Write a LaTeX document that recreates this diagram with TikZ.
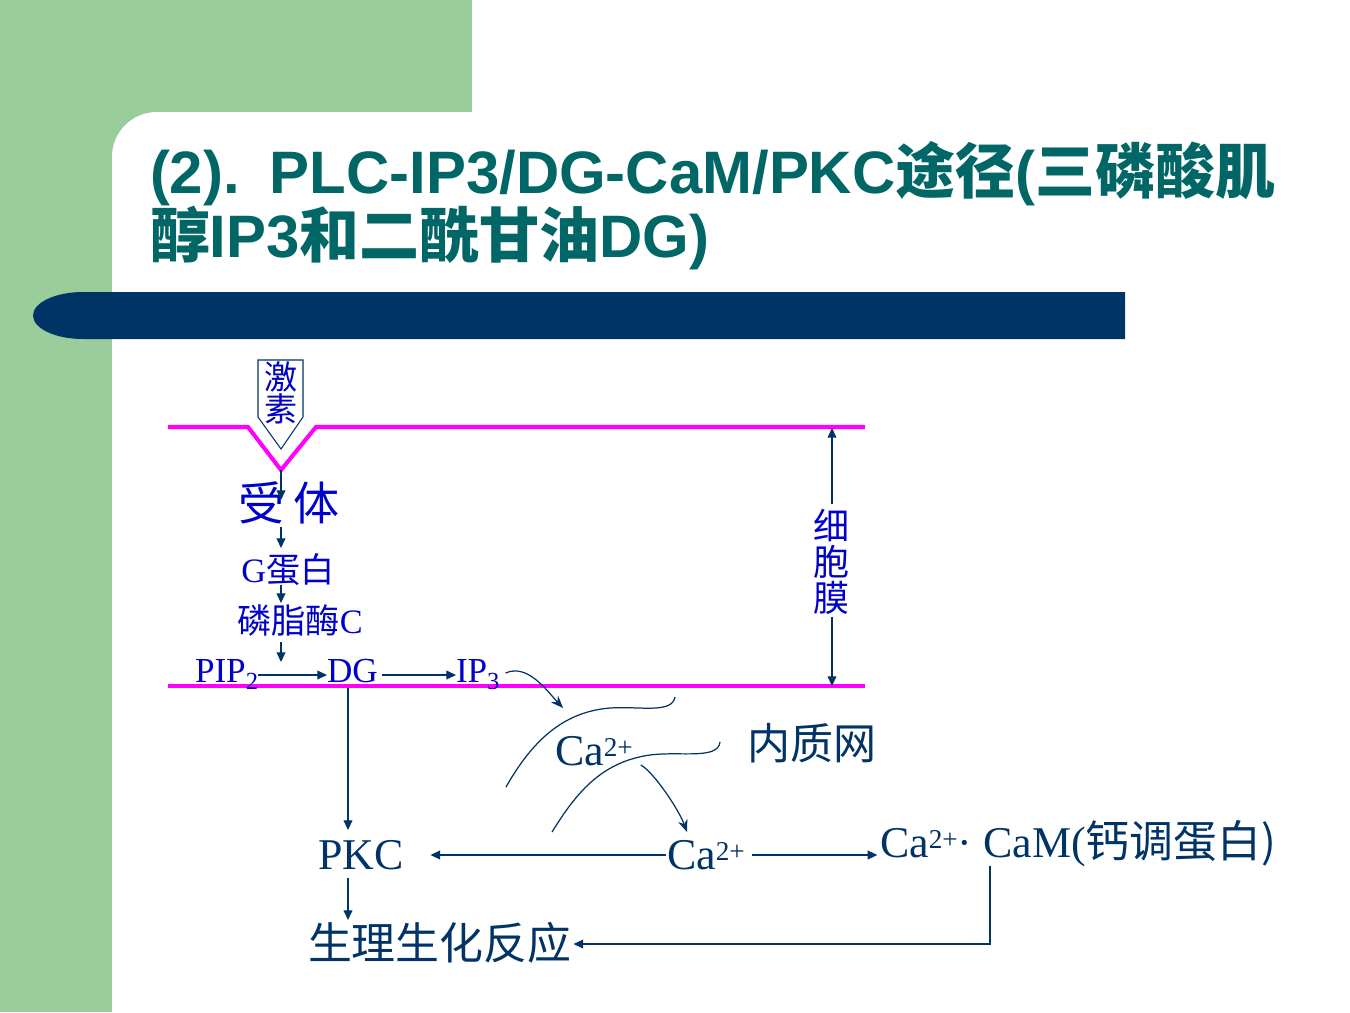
\documentclass[tikz,border=0pt]{standalone}
\usepackage{fontspec}
\setmainfont{Liberation Serif}
\newfontfamily\titlelat{Liberation Sans}
\newfontfamily\cjk{Noto Sans CJK SC}
\usetikzlibrary{arrows.meta,calc}
\definecolor{gbg}{RGB}{155,204,155}
\definecolor{navy}{RGB}{0,51,102}
\definecolor{tealt}{RGB}{0,102,102}
\definecolor{tblue}{RGB}{0,0,204}
\definecolor{mag}{RGB}{255,0,255}
\newcommand\fsz[1]{\fontsize{#1}{#1}\selectfont}
\newcommand\supr[1]{\raisebox{5pt}{\fsz{15.5pt}#1}}
\newcommand\subr[1]{\raisebox{-4.5pt}{\fsz{14pt}#1}}
\begin{document}
\begin{tikzpicture}[x=0.02cm,y=-0.02cm,
  arr/.style={draw=navy, line width=0.7pt, -{Triangle[length=5.5pt,width=5pt]}},
  carr/.style={draw=navy, line width=0.7pt, -{Stealth[length=7pt,width=5.5pt]}},
  ln/.style={draw=navy, line width=0.7pt},
  txt/.style={inner sep=0pt, outer sep=0pt},
  bluet/.style={txt, text=tblue},
  navyt/.style={txt, text=navy},
  titlet/.style={txt, anchor=base west, text=tealt, font=\titlelat\bfseries\fsz{34.1pt}}]
\useasboundingbox (0,0) rectangle (1350,1012);
\clip (0,0) rectangle (1350,1012);
% background
\fill[white] (0,0) rectangle (1350,1012);
\fill[gbg] (0,0) rectangle (472,160);
\fill[gbg] (0,0) rectangle (160,1012);
\fill[white, rounded corners=0.9cm] (112,1100) -- (112,112) -- (1400,112) -- (1400,1100) -- cycle;
\fill[gbg] (0,0) rectangle (112,1012);
\fill[gbg] (0,0) rectangle (472,112);
% bar
\fill[navy] (1125,292) -- (83,292) .. controls (55.4,292) and (33,302.5) .. (33,315.5)
  .. controls (33,328.5) and (55.4,339) .. (83,339) -- (1125,339) -- cycle;
% title
\node[titlet] (t1) at (150,193) {(2).\hspace{17pt}PLC-IP3/DG-CaM/PKC{\cjk 途径}({\cjk 三磷酸肌}};
\node[titlet] (t2) at (150,257) {{\cjk 醇}IP3{\cjk 和二酰甘油}DG)};
% membranes
\draw[mag, line width=2.3pt, line join=miter] (168,427) -- (248,427) -- (281,470) -- (316,427) -- (865,427);
\draw[mag, line width=2.3pt] (168,686) -- (865,686);
\coordinate (vtip) at (281,470);
\coordinate (vx) at (281,0);
\coordinate (dx) at (348,0);
\coordinate (cx) at (990,0);
% hormone
\draw[navy, line width=0.6pt, fill=white] (258,360) -- (303,360) -- (303,417) -- (281,449) -- (258,417) -- cycle;
\node[bluet, font=\cjk\fontsize{18.8pt}{18.2pt}\selectfont, align=center] (horm) at (281,393) {激\\素};
% chain
\node[bluet, anchor=base, font=\cjk\fsz{26.2pt}] (rec) at (289,520) {受\hspace{5.5pt}体};
\node[bluet, anchor=base, font=\fsz{19.5pt}] (gp) at (288,582) {G{\cjk 蛋白}};
\node[bluet, anchor=base, font=\fsz{19.5pt}] (plc) at (300,633) {{\cjk 磷脂酶}C};
\node[bluet, anchor=base west, font=\fsz{20pt}] (pip) at (195,682) {PIP\subr{2}};
\node[bluet, anchor=base west, font=\fsz{20pt}] (dg) at (327,682) {DG};
\node[bluet, anchor=base west, font=\fsz{20pt}] (ip3) at (456,682) {IP\subr{3}};
\draw[arr] (vtip) -- ($(vtip |- rec.base)+(0,-20)$);
\draw[arr] ($(vx |- rec.base)+(0,7)$) -- ($(vx |- gp.base)+(0,-34)$);
\draw[arr] ($(vx |- gp.base)+(0,3)$) -- ($(vx |- plc.base)+(0,-30)$);
\draw[arr] ($(vx |- plc.base)+(0,9)$) -- ($(vx |- pip.base)+(0,-20)$);
\draw[arr] ($(pip.base east)+(0,-7)$) -- ($(dg.base west)+(0,-7)$);
\draw[arr] ($(dg.base east)+(4,-7)$) -- ($(ip3.base west)+(0,-7)$);
% lower part
\node[navyt, anchor=base west, font=\fsz{25pt}] (pkc) at (318,869) {PKC};
\node[navyt, anchor=base west, font=\fsz{25pt}] (ca2) at (667,869) {Ca\supr{2+}};
\node[navyt, anchor=base west, font=\fsz{25pt}] (cam) at (880,857) {Ca\supr{2+}·\ CaM({\cjk 钙调蛋白)}};
\node[navyt, anchor=base west, font=\cjk\fsz{25pt}] (resp) at (308,959) {生理生化反应};
\node[navyt, anchor=base west, font=\fsz{25pt}] (ca1) at (555,765) {Ca\supr{2+}};
\node[navyt, anchor=base west, font=\cjk\fsz{24.5pt}] (er) at (747,759) {内质网};
\draw[arr] ($(dx |- dg.base)+(0,6)$) -- ($(dx |- pkc.base)+(0,-39)$);
\draw[arr] ($(dx |- pkc.base)+(0,9)$) -- ($(dx |- resp.base)+(0,-39)$);
\draw[arr] ($(ca2.base west)+(-1,-14)$) -- ($(pkc.base east)+(27,-14)$);
\coordinate (c2e) at ($(ca2.base east)+(7,-14)$);
\draw[arr, shorten >=1.5pt] (c2e) -- (c2e -| cam.base west);
\draw[arr] ($(cx |- cam.base)+(0,9)$) |- ($(resp.base east)+(2,-15)$);
% ER membranes
\draw[ln] (506,787) .. controls (530,745) and (560,712) .. (610,708)
  .. controls (640,706) and (672,714) .. (675,697);
\draw[ln] (552,832) .. controls (575,795) and (600,762) .. (650,755)
  .. controls (680,751) and (718,760) .. (720,742);
\coordinate (erin) at (563,708);
\draw[carr] ($(ip3.base east)+(6,-9)$) .. controls (528,663) and (548,692) .. (erin);
\draw[carr] ($(ca1.base east)+(8,0)$) .. controls +(13,7) and +(-8,-22) .. ($(ca2.base west)+(20,-37)$);
% membrane thickness
\coordinate (mt) at (832,428);
\coordinate (mb) at (832,686);
\node[bluet, font=\cjk\fontsize{20.5pt}{20.5pt}\selectfont, align=center] (mem) at (832,562) {细\\胞\\膜};
\draw[arr] ($(mem.north)+(0,-5)$) -- (mt);
\draw[arr] ($(mem.south)+(0,2)$) -- (mb);
\end{tikzpicture}
\end{document}
